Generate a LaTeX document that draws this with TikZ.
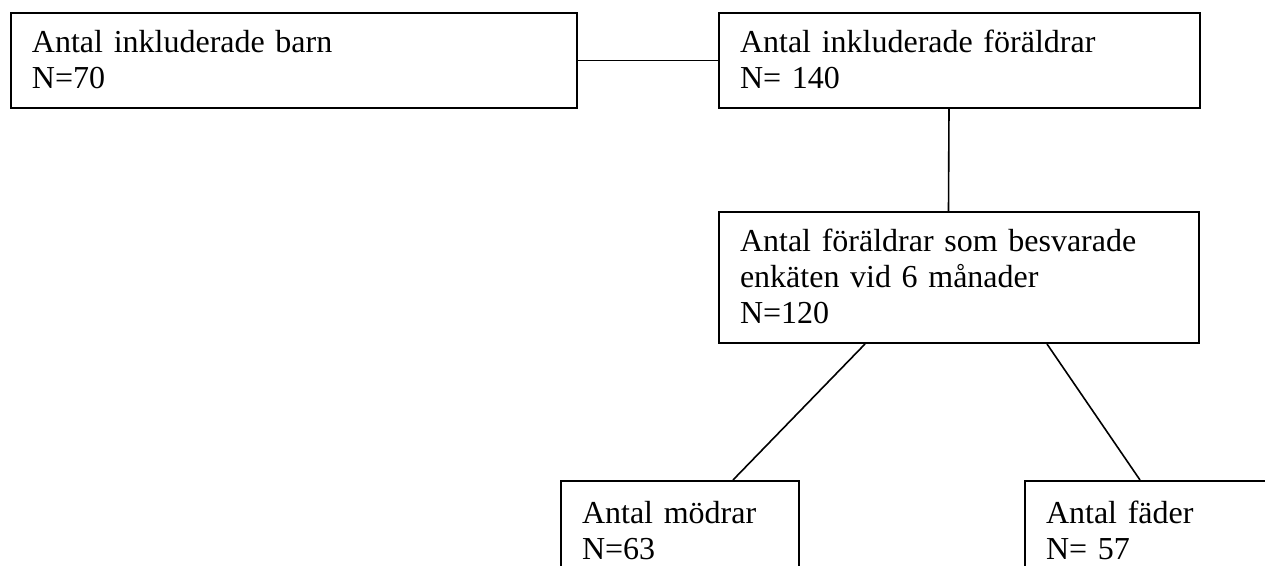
\documentclass[tikz,border=0pt]{standalone}
\usepackage{fontspec}
\setmainfont{Liberation Serif}
\usetikzlibrary{calc}

\begin{document}
\begin{tikzpicture}[x=0.5pt, y=-0.5pt, font=\fontsize{16}{18}\selectfont,
	box/.style={draw, line width=1pt, anchor=north west, inner xsep=10.5pt, inner ysep=0pt, align=left, text height=20pt},
	link/.style={line width=0.8pt}]
	\clip (0,0) rectangle (1265,566);

	\node (barn) at (10,12) [box, text width=262pt, text depth=27.5pt] {Antal inkluderade barn\\N=70};
	\node (foraldrar) at (718,12) [box, text width=219.5pt, text depth=27.5pt] {Antal inkluderade föräldrar\\N= 140};
	\node (besvarade) at (718,211) [box, text width=219pt, text depth=45.5pt] {Antal föräldrar som besvarade\\enkäten vid 6 månader\\N=120};
	\node (modrar) at (560,480) [box, text width=98pt, text height=21.5pt, text depth=50pt] {Antal mödrar\\N=63};
	\node (fader) at (1024,480) [box, text width=129pt, text height=21.5pt, text depth=50pt] {Antal fäder\\N= 57};

	\draw [link] (barn) -- (foraldrar);
	\draw [link] ([xshift=-5.25pt]foraldrar.south) -- ([xshift=-5.25pt]besvarade.north);
	\draw [link] ($(besvarade.south west)+(147,0)$) -- ($(modrar.north west)+(173,0)$);
	\draw [link] ($(besvarade.south west)+(329,0)$) -- ($(fader.north west)+(116,0)$);
\end{tikzpicture}
\end{document}
